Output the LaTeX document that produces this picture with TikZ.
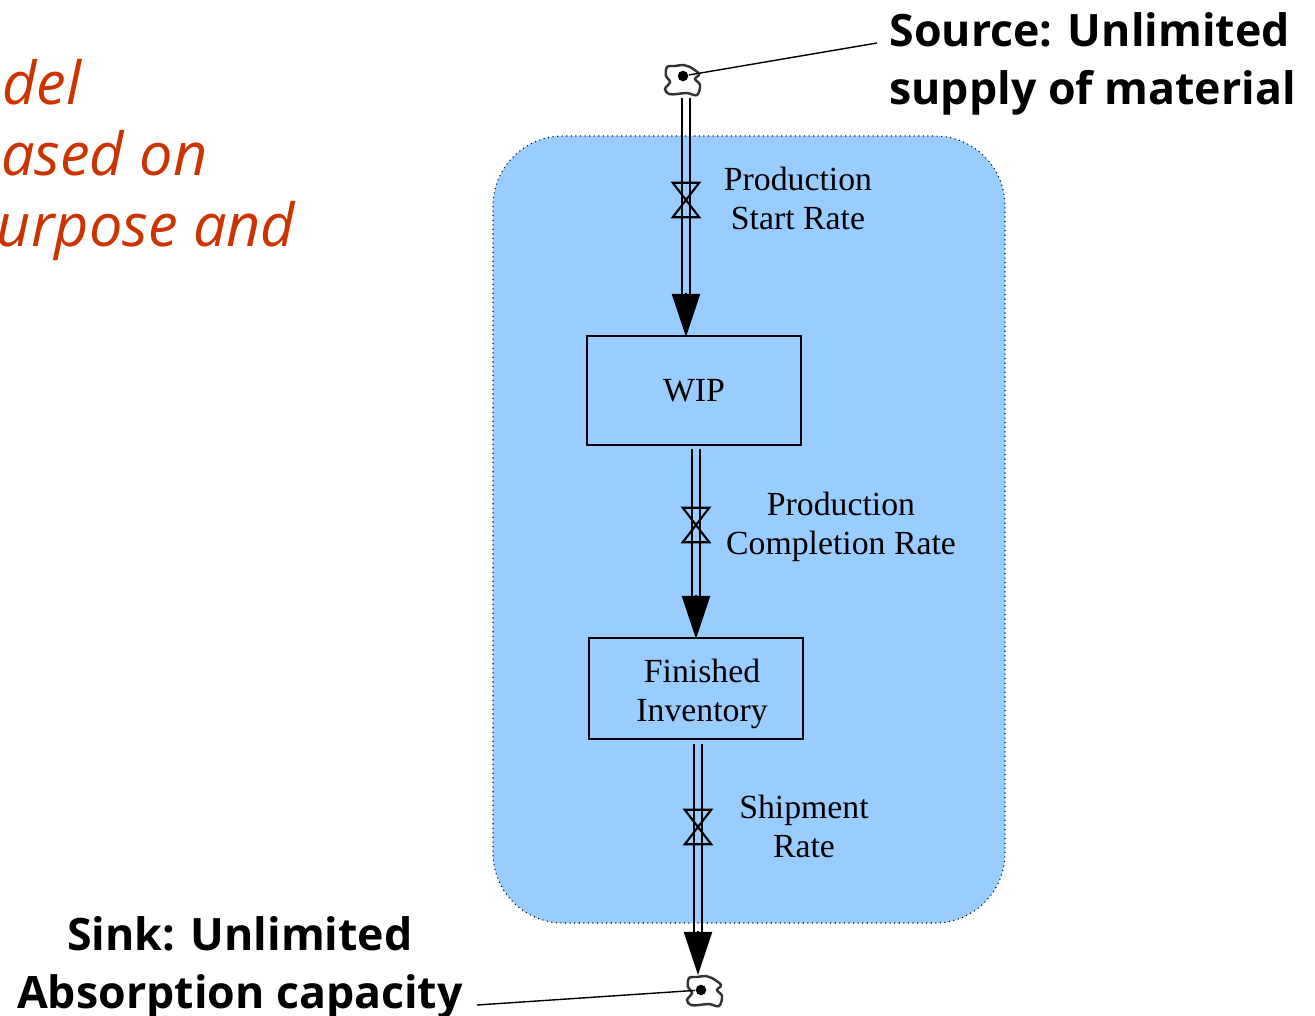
\documentclass[tikz,border=0pt]{standalone}
\usepackage{fontspec}
\setmainfont{Liberation Serif}
\newfontfamily\slidefont{Open Sans}
\usetikzlibrary{arrows.meta}
\definecolor{boundary}{HTML}{99CCFF}
\definecolor{slidered}{HTML}{CC3300}
\begin{document}
\begin{tikzpicture}
    [
        x=0.01cm, y=-0.01cm,
        stock/.style = {draw, shape=rectangle, minimum width=2.14cm, line width=0.5pt, align=center, font=\fontsize{9.6}{11.1}\selectfont},
        flowlabel/.style = {align=center, font=\fontsize{9.6}{11.1}\selectfont},
        callout/.style = {font=\fontsize{12.7}{16.5}\selectfont\slidefont\bfseries},
        note/.style = {anchor=base east, inner sep=0pt, text=slidered, font=\fontsize{16.9}{20}\selectfont\slidefont\itshape},
        valve/.style = {shape=rectangle, minimum width=0.25cm, minimum height=0.33cm, inner sep=0pt},
        pipe/.style = {line width=0.6pt},
        flowhead/.style = {-{Triangle[length=0.43cm, width=0.28cm]}, line width=0.6pt},
        leader/.style = {line width=0.4pt},
        dot/.style = {shape=circle, fill=black, minimum size=0.105cm, inner sep=0pt},
        cloudmark/.pic = {
            \draw[line width=0.7pt, black!80, fill=white] plot[smooth cycle, tension=0.6] coordinates {
                (-16,-9) (-8,-10) (1,-11) (7,-9) (16,-2) (12,3) (17,9) (14,19) (4,17)
                (-6,18) (-14,18) (-18,13) (-13,6) (-17,0)};
        },
    ]

    \path[use as bounding box, clip] (0,0) rectangle (1315,1015);

    \draw[fill=boundary, line width=0.3pt, densely dotted, rounded corners=0.7cm] (493,136) rectangle (1005,923);

    \node[note] (line0) at (82,104) {Model};
    \node[note] (line1) at (208,175) {based on};
    \node[note] (line2) at (296,246) {purpose and};

    \node[stock, minimum height=1.09cm] (wip) at (694,390.5) {\raisebox{-0.3pt}{WIP}};
    \node[stock, minimum height=1.01cm] (fin) at (696,688.5) {};
    \node[flowlabel] (fintext) at (702,694) {Finished\\Inventory};

    \path (683,76) pic {cloudmark};
    \path (705,987) pic {cloudmark};
    \node[dot] (source) at (683,76) {};
    \node[dot] (sink) at (701,990) {};

    \node[valve] (v0) at (686,200) {};
    \node[valve] (v1) at (696,525) {};
    \node[valve] (v2) at (698,827) {};

    \coordinate (p0a) at (686,98);
    \coordinate (p0b) at (686,337);
    \coordinate (p1a) at (696,449);
    \coordinate (p1b) at (696,639);
    \coordinate (p2a) at (698,744);
    \coordinate (p2b) at (698,975);

    \foreach \a/\b/\v in {p0a/p0b/v0, p1a/p1b/v1, p2a/p2b/v2} {
        \draw[pipe, shorten >=0.3cm] ([xshift=-0.04cm]\a) -- ([xshift=-0.04cm]\b);
        \draw[pipe, shorten >=0.3cm] ([xshift=0.04cm]\a) -- ([xshift=0.04cm]\b);
        \draw[flowhead] ([yshift=0.44cm]\b) -- (\b);
        \draw[pipe] (\v.north west) -- (\v.north east) -- (\v.south west) -- (\v.south east) -- (\v.north west) -- cycle;
    }

    \node[flowlabel] (l0) at (798,198.5) {Production\\Start Rate};
    \node[flowlabel] (l1) at (841,526.5) {Production\\Completion Rate};
    \node[flowlabel] (l2) at (804,826) {Shipment\\Rate};

    \node[callout, align=left, anchor=west] (srctext) at (877,63.5) {Source: Unlimited\\supply of material};
    \node[callout, align=center] (sinktext) at (240,968) {Sink: Unlimited\\Absorption capacity};

    \coordinate (srcend) at (877,43);
    \coordinate (sinkend) at (477,1005);
    \draw[leader] (source) -- (srcend);
    \draw[leader] (sink) -- (sinkend);
\end{tikzpicture}
\end{document}
